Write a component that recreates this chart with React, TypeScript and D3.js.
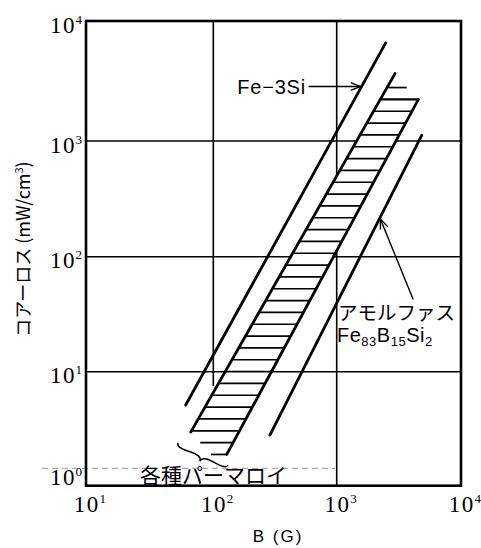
import React from "react";
import * as d3 from "d3";

const W = 481;
const H = 548;

// axis decades
const xTicks = [10, 100, 1000, 10000];
const yTicks = [1, 10, 100, 1000, 10000];
const xTickExp = ["1", "2", "3", "4"];
const yTickExp = ["0", "1", "2", "3", "4"];

// core-loss lines: B (G) vs loss (mW/cm³), straight on log–log axes
const fe3SiLine = [
  { b: 60.7, loss: 5.1 },
  { b: 2478, loss: 6570 },
];
const permalloyUpper = [
  { b: 66.5, loss: 2.95 },
  { b: 2944, loss: 3646 },
];
const permalloyLower = [
  { b: 128.5, loss: 1.88 },
  { b: 4540, loss: 2222 },
];
const amorphousLine = [
  { b: 287.6, loss: 2.78 },
  { b: 4830, loss: 1116 },
];
// permalloy band extras
const permalloyTop = 2222; // upper limit of the hatched range
const permalloyToe = { b: 96, loss: 1.88 }; // lower-left corner of the hatching
const permalloyStubB = 3660; // short hatch row above the band
const hatchIntervals = 30;

// annotation targets (loss level where each arrow meets its line)
const feArrowLoss = 2846;
const amorphousArrowLoss = 212;
const gridX100EndLoss = 7.5;
const dashedRefLoss = 1.42;

const x = d3
  .scaleLog()
  .domain([10, 100, 1000, 10000])
  .range([86, 213.3, 336.7, 461]);
const y = d3
  .scaleLog()
  .domain([1, 10, 100, 1000, 10000])
  .range([485.7, 371.7, 256.7, 141, 21]);

type P = { b: number; loss: number };
const px = (p: P): [number, number] => [x(p.b), y(p.loss)];
const xOnLine = (line: P[], yy: number) => {
  const [x0, y0] = px(line[0]);
  const [x1, y1] = px(line[1]);
  return x0 + ((yy - y0) / (y1 - y0)) * (x1 - x0);
};

function curlyBrace(x1: number, y1: number, x2: number, y2: number, w: number, q: number) {
  let dx = x1 - x2;
  let dy = y1 - y2;
  const len = Math.sqrt(dx * dx + dy * dy);
  dx /= len;
  dy /= len;
  const qx1 = x1 + q * w * dy, qy1 = y1 - q * w * dx;
  const qx2 = x1 - 0.25 * len * dx + (1 - q) * w * dy, qy2 = y1 - 0.25 * len * dy - (1 - q) * w * dx;
  const tx1 = x1 - 0.5 * len * dx + w * dy, ty1 = y1 - 0.5 * len * dy - w * dx;
  const qx3 = x2 + q * w * dy, qy3 = y2 - q * w * dx;
  const qx4 = x1 - 0.75 * len * dx + (1 - q) * w * dy, qy4 = y1 - 0.75 * len * dy - (1 - q) * w * dx;
  return `M ${x1} ${y1} Q ${qx1} ${qy1} ${qx2} ${qy2} T ${tx1} ${ty1} M ${x2} ${y2} Q ${qx3} ${qy3} ${qx4} ${qy4} T ${tx1} ${ty1}`;
}

function Barb({ x0, y0, x1, y1 }: { x0: number; y0: number; x1: number; y1: number }) {
  const a = Math.atan2(y1 - y0, x1 - x0);
  const L = 10;
  const s = 0.38;
  const p1 = [x1 - L * Math.cos(a - s), y1 - L * Math.sin(a - s)];
  const p2 = [x1 - L * Math.cos(a + s), y1 - L * Math.sin(a + s)];
  return (
    <g stroke="#000" strokeWidth={1.4} fill="none" strokeLinecap="round">
      <line x1={x0} y1={y0} x2={x1} y2={y1} />
      <polyline points={`${p1[0]},${p1[1]} ${x1},${y1} ${p2[0]},${p2[1]}`} />
    </g>
  );
}

export default function App() {
  const lineGen = d3
    .line<P>()
    .x((d) => x(d.b))
    .y((d) => y(d.loss));

  // hatched permalloy band
  const yTop = y(permalloyTop);
  const yBot = y(permalloyLower[0].loss);
  const step = (yBot - yTop) / hatchIntervals;
  const yUpperBottom = y(permalloyUpper[0].loss);
  const rows = d3.range(-1, hatchIntervals + 1).map((i) => {
    const yy = yTop + i * step;
    if (i === -1) return { i, yy, x0: xOnLine(permalloyUpper, yy), x1: x(permalloyStubB) };
    const left =
      yy <= yUpperBottom
        ? xOnLine(permalloyUpper, yy)
        : xOnLine([permalloyUpper[0], permalloyToe], yy);
    return { i, yy, x0: left, x1: xOnLine(permalloyLower, yy) };
  });

  const bandPoly = [
    px(permalloyUpper[0]),
    [xOnLine(permalloyUpper, yTop), yTop],
    [xOnLine(permalloyLower, yTop), yTop],
    px(permalloyLower[0]),
    px(permalloyToe),
  ]
    .map((p) => p.join(","))
    .join(" ");

  const feY = y(feArrowLoss);
  const feTipX = xOnLine(fe3SiLine, feY);
  const amY = y(amorphousArrowLoss);
  const amTipX = xOnLine(amorphousLine, amY);

  const serif = "'Liberation Serif', 'DejaVu Serif', serif";
  const sans = "'Liberation Sans', Arial, sans-serif";
  const jp = "'Noto Sans CJK JP', sans-serif";

  return (
    <svg
      width={W}
      height={H}
      viewBox={`0 0 ${W} ${H}`}
      style={{ position: "absolute", left: 0, top: 0, display: "block", background: "#fff" }}
    >
      <rect width={W} height={H} fill="#fff" />

      {/* grid */}
      <g stroke="#000" strokeWidth={1.6}>
        {[10, 100, 1000].map((v) => (
          <line key={"h" + v} x1={x(10)} x2={x(10000)} y1={y(v)} y2={y(v)} />
        ))}
        <line x1={x(100)} x2={x(100)} y1={y(10000)} y2={y(gridX100EndLoss)} />
        <line x1={x(1000)} x2={x(1000)} y1={y(10000)} y2={y(1)} />
      </g>

      {/* faint dashed reference */}
      <line
        x1={42}
        x2={335}
        y1={y(dashedRefLoss)}
        y2={y(dashedRefLoss)}
        stroke="#999"
        strokeWidth={1}
        strokeDasharray="6 4"
      />

      {/* frame */}
      <rect
        x={x(10)}
        y={y(10000)}
        width={x(10000) - x(10)}
        height={y(1) - y(10000)}
        fill="none"
        stroke="#000"
        strokeWidth={2.6}
      />

      {/* permalloy band */}
      <polygon points={bandPoly} fill="#fff" />
      <g stroke="#000" strokeWidth={1.7}>
        {rows.map((r) => (
          <line key={r.i} x1={r.x0} x2={r.x1} y1={r.yy} y2={r.yy} strokeWidth={r.i === 0 ? 2.4 : 1.7} />
        ))}
      </g>

      {/* loss lines */}
      <g fill="none" stroke="#000" strokeWidth={2.8} strokeLinecap="round">
        <path d={lineGen(fe3SiLine) || ""} />
        <path d={lineGen(permalloyUpper) || ""} />
        <path d={lineGen(permalloyLower) || ""} />
        <path d={lineGen(amorphousLine) || ""} />
      </g>

      {/* annotations */}
      <text x={306} y={feY + 7.5} textAnchor="end" fontFamily={sans} fontSize={20} letterSpacing={0.8}>
        Fe−3Si
      </text>
      <Barb x0={309} y0={feY} x1={feTipX - 1} y1={feY} />

      <Barb x0={413} y0={299} x1={amTipX + 1} y1={amY} />
      <text x={338} y={320} fontFamily={jp} fontSize={19.5}>
        アモルファス
      </text>
      <text x={337} y={342} fontFamily={sans} fontSize={20} letterSpacing={0.5}>
        Fe
        <tspan fontSize={13} dy={4}>83</tspan>
        <tspan dy={-4}>B</tspan>
        <tspan fontSize={13} dy={4}>15</tspan>
        <tspan dy={-4}>Si</tspan>
        <tspan fontSize={13} dy={4}>2</tspan>
      </text>

      <path d={curlyBrace(178, 443, 228, 465, 8, 0.6)} fill="none" stroke="#000" strokeWidth={1.5} />
      <text x={140} y={483} fontFamily={jp} fontSize={21}>
        各種パーマロイ
      </text>

      {/* y tick labels */}
      {yTicks.map((v, i) => {
        const base = v === 1 ? 485 : y(v) + 11.7;
        return (
          <g key={"yt" + v} fontFamily={serif}>
            <text x={50} y={base} fontSize={23} letterSpacing={1.5}>
              10
            </text>
            <text x={75.5} y={base - 9} fontSize={13}>
              {yTickExp[i]}
            </text>
          </g>
        );
      })}

      {/* x tick labels */}
      {xTicks.map((v, i) => (
        <g key={"xt" + v} fontFamily={serif}>
          <text x={x(v) + 0.75} y={511.7} fontSize={23} letterSpacing={1.5} textAnchor="middle">
            10
          </text>
          <text x={x(v) + 13.5} y={502.7} fontSize={13}>
            {xTickExp[i]}
          </text>
        </g>
      ))}

      {/* axis titles */}
      <text x={278} y={542} textAnchor="middle" fontFamily={sans} fontSize={17} letterSpacing={2}>
        B (G)
      </text>
      <text
        transform="translate(30,249) rotate(-90)"
        textAnchor="middle"
        fontFamily={jp}
        fontSize={18}
      >
        コアーロス (mW/cm
        <tspan fontSize={11} dy={-7}>3</tspan>
        <tspan dy={7}>)</tspan>
      </text>
    </svg>
  );
}
